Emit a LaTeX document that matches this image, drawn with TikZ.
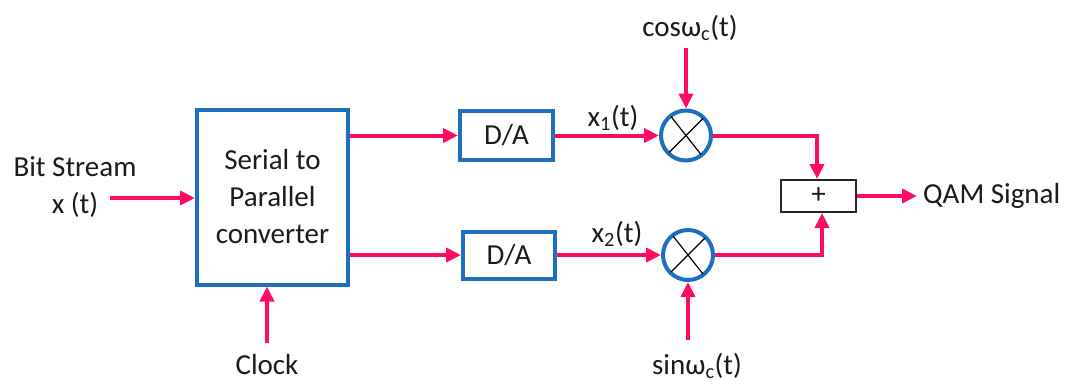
\documentclass[tikz,border=0pt]{standalone}
\usepackage{fontspec}
\setmainfont{Carlito}
\usetikzlibrary{arrows.meta}
\definecolor{pk}{HTML}{FF0A64}
\definecolor{bl}{HTML}{1E6FBE}
\definecolor{tx}{HTML}{1A1A1A}
\begin{document}
\begin{tikzpicture}[x=1pt,y=-1pt,
  every node/.style={text=tx,font=\fontsize{29}{37}\selectfont,inner sep=0pt},
  bbox/.style={draw=bl,line width=4pt,fill=white},
  mult/.style={draw=bl,line width=4pt,circle,minimum size=50pt,fill=white},
  addbox/.style={draw=black!85,line width=2pt,minimum width=75pt,minimum height=32pt},
  sig/.style={draw=pk,line width=4pt,-{Triangle[length=15pt,width=14pt]}}]
\useasboundingbox[fill=white] (0,0) rectangle (1071,383);
% blocks
\node[bbox,minimum width=151pt,minimum height=175pt,align=center] (sp) at (272.5,197) {Serial to\\Parallel\\converter};
\node[bbox,minimum width=93pt,minimum height=49pt] (da1) at (506.5,135.5) {D/A};
\node[bbox,minimum width=92pt,minimum height=47pt] (da2) at (509,255) {D/A};
\node[mult] (m1) at (686,135.5) {};
\node[mult] (m2) at (688,255) {};
\foreach \m in {m1,m2}{
  \draw[line width=1.2pt,black] ([shift={(-15,-19)}]\m.center) -- ([shift={(15,19)}]\m.center);
  \draw[line width=1.2pt,black] ([shift={(17,-17)}]\m.center) -- ([shift={(-17,17)}]\m.center);
}
\node[addbox] (add) at (818.5,196) {+};
% labels
\node[align=center] (bs) at (75,187) {Bit Stream\\x (t)};
\node (clk) at (267,365) {Clock};
\node (cos) at (690,28) {cosω\textsubscript{c}(t)};
\node (sin) at (697,366) {sinω\textsubscript{c}(t)};
\node (x1) at (613,118) {x\textsubscript{1}(t)};
\node (x2) at (617,234) {x\textsubscript{2}(t)};
\node[anchor=west] (qam) at (923,196) {QAM Signal};
\coordinate (bsin) at (110,198);
\coordinate (clkin) at (267,343);
\coordinate (cosin) at (686,48);
\coordinate (sinin) at (688,340);
% connectors
\draw[sig] (bsin) -- (bsin -| sp.west);
\draw[sig] (clkin) -- (clkin |- sp.south);
\draw[sig] (sp.east |- da1) -- (da1.west);
\draw[sig] (sp.east |- da2) -- (da2.west);
\draw[sig] (da1.east) -- (m1.west);
\draw[sig] (da2.east) -- (m2.west);
\draw[sig] (cosin) -- (m1.north);
\draw[sig] (sinin) -- (m2.south);
\draw[sig] (m1.east) -| ([xshift=-1.5pt]add.north);
\draw[sig] (m2.east) -| ([xshift=3.5pt]add.south);
\draw[sig] (add.east) -- ([xshift=-6pt]qam.west);
\end{tikzpicture}
\end{document}
